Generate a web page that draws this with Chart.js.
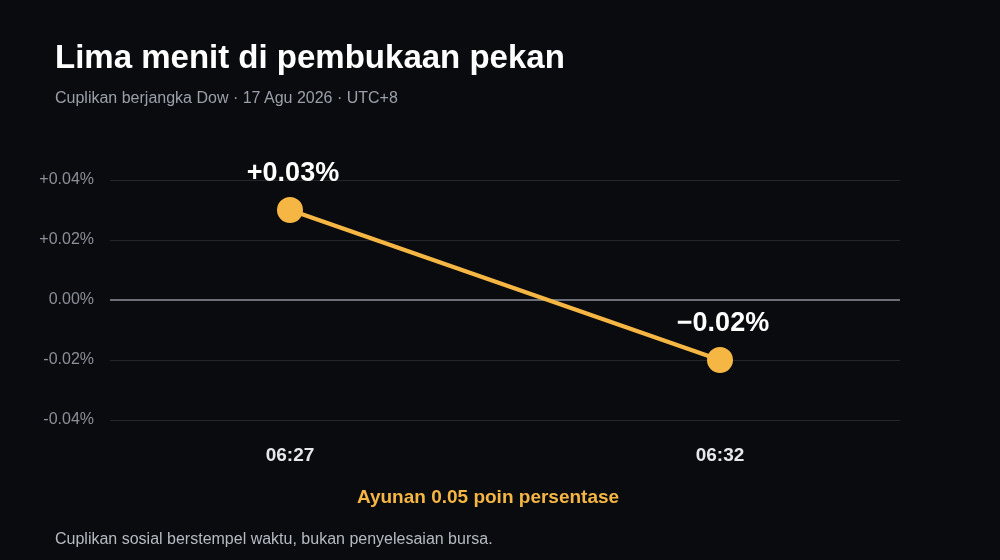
<!DOCTYPE html>
<html>
<head>
<meta charset="utf-8">
<script src="https://cdn.jsdelivr.net/npm/chart.js@4/dist/chart.umd.min.js"></script>
<style>
  html, body { margin: 0; padding: 0; background: #0a0b0e; }
  #wrap { position: relative; width: 1000px; height: 560px; font-family: "Liberation Sans", Arial, sans-serif; }
  canvas { position: absolute; left: 0; top: 0; }
  .t { position: absolute; white-space: nowrap; }
  #title { left: 55px; top: 38px; font-size: 33px; font-weight: bold; color: #ffffff; }
  #sub { left: 55px; top: 89px; font-size: 16px; color: #9aa0aa; }
  #swing { left: 0; width: 976px; text-align: center; top: 486px; font-size: 19px; font-weight: bold; color: #f6b643; }
  #foot { left: 55px; top: 530px; font-size: 16px; color: #b5bac3; }
</style>
</head>
<body>
<div id="wrap">
  <canvas id="c" width="1000" height="560"></canvas>
  <div class="t" id="title">Lima menit di pembukaan pekan</div>
  <div class="t" id="sub">Cuplikan berjangka Dow · 17 Agu 2026 · UTC+8</div>
  <div class="t" id="swing">Ayunan 0.05 poin persentase</div>
  <div class="t" id="foot">Cuplikan sosial berstempel waktu, bukan penyelesaian bursa.</div>
</div>
<script>
const times = ['06:27', '06:32'];
const values = [0.03, -0.02];
const pointLabels = ['+0.03%', '\u22120.02%'];
const yTicks = [-0.04, -0.02, 0, 0.02, 0.04];

// labels above points
const valueLabels = {
  id: 'valueLabels',
  afterDatasetsDraw(chart) {
    const ctx = chart.ctx;
    const meta = chart.getDatasetMeta(0);
    ctx.save();
    ctx.font = 'bold 27px "Liberation Sans", Arial, sans-serif';
    ctx.fillStyle = '#ffffff';
    ctx.textAlign = 'center';
    ctx.textBaseline = 'alphabetic';
    meta.data.forEach((p, i) => ctx.fillText(pointLabels[i], p.x + 3, p.y - 29));
    ctx.restore();
  }
};

new Chart(document.getElementById('c'), {
  type: 'line',
  data: {
    datasets: [{
      data: values.map((v, i) => ({ x: i, y: v })),
      borderColor: '#f6b643',
      backgroundColor: '#f6b643',
      borderWidth: 4,
      pointRadius: 11,
      pointHoverRadius: 11,
      tension: 0
    }]
  },
  options: {
    responsive: false,
    animation: false,
    layout: { padding: { left: 0, right: 100, top: 180, bottom: 80 } },
    plugins: { legend: { display: false }, tooltip: { enabled: false } },
    scales: {
      x: {
        type: 'linear',
        min: -0.4186, max: 1.4186,
        afterBuildTicks: s => { s.ticks = times.map((t, i) => ({ value: i })); },
        afterFit: s => { s.height = 60; },
        grid: { display: false, drawTicks: false },
        border: { display: false },
        ticks: {
          padding: 24,
          color: '#e5e7eb',
          font: { family: '"Liberation Sans", Arial, sans-serif', size: 19, weight: 'bold' },
          callback: v => times[v]
        }
      },
      y: {
        min: -0.04, max: 0.04,
        afterBuildTicks: s => { s.ticks = yTicks.map(v => ({ value: v })); },
        afterFit: s => { s.width = 110; },
        grid: {
          drawTicks: false,
          color: c => c.tick && c.tick.value === 0 ? '#6b6f78' : '#24262b',
          lineWidth: c => c.tick && c.tick.value === 0 ? 2 : 1
        },
        border: { display: false },
        ticks: {
          padding: 16,
          color: '#8b8f98',
          font: { family: '"Liberation Sans", Arial, sans-serif', size: 16 },
          callback: v => (v > 0 ? '+' : '') + v.toFixed(2) + '%'
        }
      }
    }
  },
  plugins: [valueLabels]
});
</script>
</body>
</html>
